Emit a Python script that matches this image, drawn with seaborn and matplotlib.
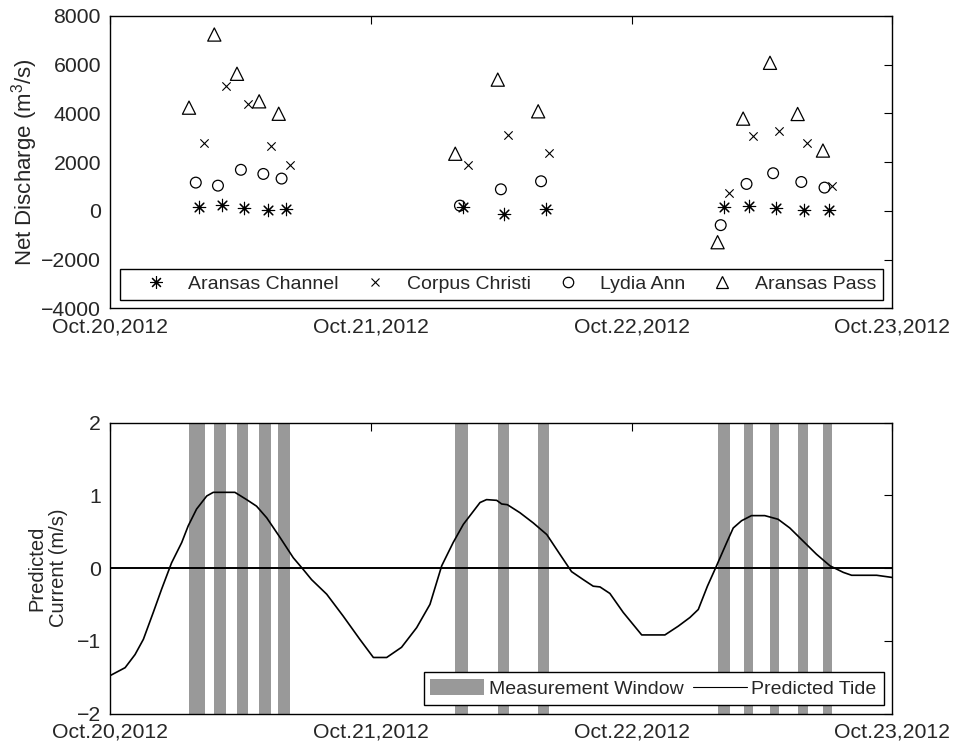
import numpy as np
import pandas as pd
import matplotlib
matplotlib.use("Agg")
import matplotlib.pyplot as plt
import seaborn as sns
from matplotlib.lines import Line2D
from matplotlib.patches import Patch

# ---------------- data (time in days since Oct.20,2012 00:00) ----------------
x_tick_labels = ["Oct.20,2012", "Oct.21,2012", "Oct.22,2012", "Oct.23,2012"]

series_names = ["Aransas Channel", "Corpus Christi", "Lydia Ann", "Aransas Pass"]

t_channel = [0.342, 0.431, 0.515, 0.606, 0.674, 1.352, 1.512, 1.671,
             2.354, 2.451, 2.555, 2.662, 2.756]
q_channel = [180, 250, 135, 40, 70, 180, -135, 70,
             180, 190, 125, 55, 30]

t_corpus = [0.360, 0.444, 0.528, 0.616, 0.689, 1.374, 1.527, 1.683,
            2.372, 2.464, 2.565, 2.671, 2.767]
q_corpus = [2810, 5140, 4400, 2680, 1880, 1880, 3130, 2370,
            730, 3060, 3280, 2810, 1040]

t_lydia = [0.329, 0.414, 0.502, 0.588, 0.658, 1.342, 1.499, 1.653,
           2.342, 2.441, 2.543, 2.651, 2.740]
q_lydia = [1165, 1040, 1690, 1520, 1330, 220, 890, 1220,
           -580, 1110, 1550, 1190, 960]

t_pass = [0.303, 0.400, 0.487, 0.572, 0.647, 1.324, 1.487, 1.642,
          2.330, 2.428, 2.531, 2.637, 2.734]
q_pass = [4240, 7240, 5630, 4500, 3990, 2350, 5390, 4090,
          -1280, 3790, 6080, 3980, 2480]

win_start = [0.303, 0.399, 0.487, 0.571, 0.644, 1.323, 1.488, 1.641,
             2.331, 2.431, 2.531, 2.638, 2.734]
win_end = [0.364, 0.445, 0.528, 0.617, 0.690, 1.372, 1.529, 1.682,
           2.377, 2.466, 2.565, 2.676, 2.769]

tide_t = [0.000, 0.058, 0.096, 0.128, 0.166, 0.198, 0.236, 0.275, 0.300, 0.332,
          0.371, 0.396, 0.479, 0.524, 0.562, 0.601, 0.652, 0.703, 0.741, 0.773,
          0.831, 0.894, 0.958, 1.010, 1.061, 1.118, 1.176, 1.227, 1.272, 1.316,
          1.355, 1.419, 1.444, 1.483, 1.502, 1.524, 1.572, 1.623, 1.675, 1.725,
          1.770, 1.815, 1.853, 1.879, 1.917, 1.968, 2.039, 2.128, 2.179, 2.224,
          2.256, 2.291, 2.326, 2.365, 2.390, 2.422, 2.460, 2.511, 2.562, 2.607,
          2.658, 2.709, 2.761, 2.812, 2.844, 2.940, 3.000]
tide_v = [-1.48, -1.37, -1.19, -0.98, -0.61, -0.29, 0.07, 0.35, 0.58, 0.81,
          0.99, 1.04, 1.04, 0.94, 0.85, 0.69, 0.42, 0.14, -0.02, -0.16,
          -0.36, -0.66, -0.98, -1.23, -1.23, -1.09, -0.82, -0.50, 0.03, 0.35,
          0.60, 0.90, 0.94, 0.93, 0.88, 0.87, 0.76, 0.62, 0.46, 0.19,
          -0.05, -0.16, -0.25, -0.26, -0.35, -0.61, -0.92, -0.92, -0.80, -0.68,
          -0.57, -0.25, 0.03, 0.35, 0.55, 0.65, 0.72, 0.72, 0.67, 0.55,
          0.37, 0.19, 0.03, -0.06, -0.10, -0.10, -0.13]

# ---------------- style ----------------
sns.set_style("white")
FS_TICK = 15.3
FS_LEG = 14.0
plt.rcParams["font.family"] = ["Liberation Sans", "DejaVu Sans"]
plt.rcParams["mathtext.default"] = "regular"
plt.rcParams["axes.linewidth"] = 1.0

W, H = 958, 748
fig = plt.figure(figsize=(W / 100, H / 100), dpi=100)
ax1 = fig.add_axes([110 / W, 1 - 308.5 / H, 782.3 / W, 292.5 / H])
ax2 = fig.add_axes([110 / W, 1 - 713.5 / H, 782.3 / W, 291 / H])

star = (8, 2, 0)
styles = {
    "Aransas Channel": dict(marker=star, s=80, filled=False),
    "Corpus Christi": dict(marker="x", s=36, filled=False),
    "Lydia Ann": dict(marker="o", s=60, filled=True),
    "Aransas Pass": dict(marker="^", s=90, filled=True),
}
data = {
    "Aransas Channel": (t_channel, q_channel),
    "Corpus Christi": (t_corpus, q_corpus),
    "Lydia Ann": (t_lydia, q_lydia),
    "Aransas Pass": (t_pass, q_pass),
}

for name in series_names:
    t, q = data[name]
    df = pd.DataFrame({"t": t, "q": q})
    st = styles[name]
    if st["filled"]:
        sns.scatterplot(data=df, x="t", y="q", ax=ax1, marker=st["marker"], s=st["s"],
                        color="k", facecolor="none", edgecolor="k", linewidth=0.9,
                        legend=False, zorder=3)
    else:
        sns.scatterplot(data=df, x="t", y="q", ax=ax1, marker=st["marker"], s=st["s"],
                        color="k", linewidth=0.8, legend=False, zorder=3)

ax1.set_xlim(0, 3)
ax1.set_ylim(-4000, 8000)
ax1.set_yticks(np.arange(-4000, 8001, 2000))
ax1.set_xticks([0, 1, 2, 3])
ax1.set_xticklabels(x_tick_labels)
ax1.set_xlabel("")
ax1.set_ylabel("Net Discharge (m$^3$/s)", fontsize=16, labelpad=1)

h1 = [Line2D([], [], ls="none", color="k", marker=star, ms=9, mew=0.8),
      Line2D([], [], ls="none", color="k", marker="x", ms=6, mew=0.8),
      Line2D([], [], ls="none", color="k", marker="o", ms=7.5, mfc="none", mew=0.9),
      Line2D([], [], ls="none", color="k", marker="^", ms=9, mfc="none", mew=0.9)]
leg1 = ax1.legend(h1, series_names, loc="lower center", ncol=4, fontsize=FS_LEG,
                  frameon=True, fancybox=False, edgecolor="k", framealpha=1,
                  handlelength=3.0, handletextpad=0.15, columnspacing=0.4,
                  borderpad=0.35, borderaxespad=0.45)
leg1.get_frame().set_linewidth(1.0)

# ---------------- bottom panel ----------------
for s, e in zip(win_start, win_end):
    ax2.axvspan(s, e, color="#999999", lw=0, zorder=1)
ax2.axhline(0, color="k", lw=1.4, zorder=2)
tide_df = pd.DataFrame({"t": tide_t, "v": tide_v})
sns.lineplot(data=tide_df, x="t", y="v", ax=ax2, color="k", lw=1.2,
             estimator=None, sort=True, legend=False, zorder=3)

ax2.set_xlim(0, 3)
ax2.set_ylim(-2, 2)
ax2.set_yticks([-2, -1, 0, 1, 2])
ax2.set_xticks([0, 1, 2, 3])
ax2.set_xticklabels(x_tick_labels)
ax2.set_xlabel("")
ax2.set_ylabel("Predicted\nCurrent (m/s)", fontsize=14.5, labelpad=6)

h2 = [Patch(facecolor="#999999", edgecolor="none"),
      Line2D([], [], color="k", lw=0.8)]
leg2 = ax2.legend(h2, ["Measurement Window", "Predicted Tide"], loc="lower right",
                  ncol=2, fontsize=FS_LEG, frameon=True, fancybox=False, edgecolor="k",
                  framealpha=1, handlelength=2.75, handleheight=0.9,
                  handletextpad=0.25, columnspacing=0.5, borderpad=0.35,
                  borderaxespad=0.45)
leg2.get_frame().set_linewidth(1.0)
leg2.set_zorder(5)

for ax in (ax1, ax2):
    ax.tick_params(direction="in", length=6, width=0.8, top=True, right=True,
                   labelsize=FS_TICK, pad=6.5, color="k")
    for sp in ax.spines.values():
        sp.set_color("k")
        sp.set_linewidth(1.0)
    ax.grid(False)

fig.savefig("out.png", dpi=100)
